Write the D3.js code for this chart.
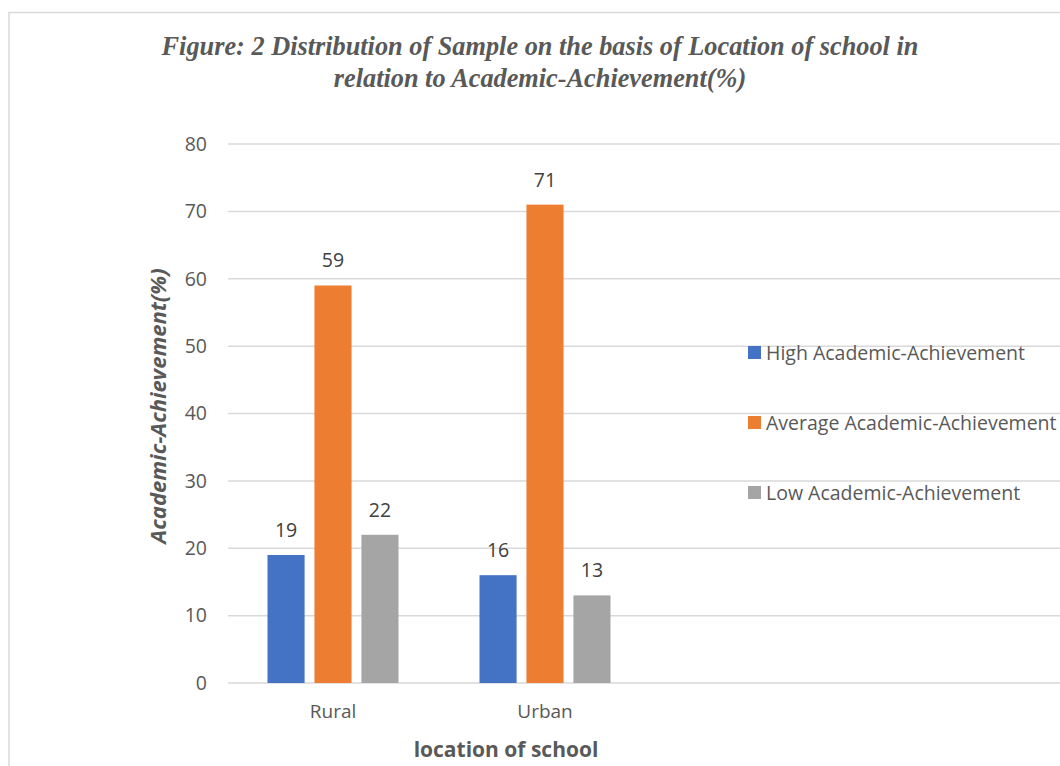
<!DOCTYPE html>
<html><head><meta charset="utf-8">
<script src="https://cdn.jsdelivr.net/npm/d3@7"></script>
<style>body{margin:0;background:#fff}svg{display:block}</style>
</head><body>
<script>
const categories = ["Rural", "Urban"];
const seriesNames = ["High Academic-Achievement", "Average Academic-Achievement", "Low Academic-Achievement"];
const highValues = [19, 16];
const averageValues = [59, 71];
const lowValues = [22, 13];
const yTicks = [0, 10, 20, 30, 40, 50, 60, 70, 80];
const colors = ["#4472C4", "#ED7D31", "#A5A5A5"];
const titleLines = ["Figure: 2 Distribution of Sample on the basis of Location of school in", "relation to Academic-Achievement(%)"];

const W = 1060, H = 766;
const svg = d3.select("body").append("svg").attr("width", W).attr("height", H);
svg.append("rect").attr("x", 9).attr("y", 12.5).attr("width", W + 10).attr("height", H + 10)
  .attr("fill", "#fff").attr("stroke", "#d9d9d9").attr("stroke-width", 1.5);

const y = d3.scaleLinear().domain([0, 80]).range([683, 144]);
const x0 = d3.scaleBand().domain(categories).range([227, 651]);
const x1 = d3.scaleBand().domain(seriesNames).range([40.5, 171.5]).paddingInner(0.21);

const sans = "'Open Sans', 'Noto Sans', sans-serif";

// gridlines
svg.append("g").selectAll("line").data(yTicks).join("line")
  .attr("x1", 228).attr("x2", W).attr("y1", d => y(d)).attr("y2", d => y(d))
  .attr("stroke", "#d9d9d9").attr("stroke-width", 1.5);

// y axis labels
const yAxis = svg.append("g").attr("transform", "translate(207,0)")
  .call(d3.axisLeft(y).tickValues(yTicks).tickSize(0).tickPadding(0));
yAxis.select(".domain").remove();
yAxis.selectAll("text").attr("font-family", sans).attr("font-size", 19.5).attr("fill", "#595959");

// x axis labels
const xAxis = svg.append("g").attr("transform", "translate(0,704)")
  .call(d3.axisBottom(x0).tickSize(0).tickPadding(0));
xAxis.select(".domain").remove();
xAxis.selectAll("text").attr("font-family", sans).attr("font-size", 19).attr("fill", "#595959");

const series = [highValues, averageValues, lowValues];
const data = [];
categories.forEach((c, i) => seriesNames.forEach((s, j) => data.push({c, s, j, v: series[j][i]})));

const bars = svg.append("g");
bars.selectAll("rect").data(data).join("rect")
  .attr("x", d => x0(d.c) + x1(d.s))
  .attr("width", x1.bandwidth())
  .attr("y", d => y(d.v))
  .attr("height", d => y(0) - y(d.v))
  .attr("fill", d => colors[d.j]);
bars.selectAll("text").data(data).join("text")
  .attr("x", d => x0(d.c) + x1(d.s) + x1.bandwidth() / 2)
  .attr("y", d => y(d.v) - 18)
  .attr("text-anchor", "middle")
  .attr("font-family", sans).attr("font-size", 19.5).attr("fill", "#404040")
  .text(d => d.v);

// title
svg.append("g").selectAll("text").data(titleLines).join("text")
  .attr("x", 540).attr("y", (d, i) => 55 + i * 32)
  .attr("text-anchor", "middle")
  .attr("font-family", "'Liberation Serif', 'Times New Roman', serif")
  .attr("font-style", "italic").attr("font-weight", "bold")
  .attr("font-size", 26.3).attr("fill", "#595959")
  .text(d => d);

// y axis title
svg.append("text")
  .attr("transform", "translate(166,406) rotate(-90)")
  .attr("text-anchor", "middle")
  .attr("font-family", sans).attr("font-style", "italic").attr("font-weight", "bold")
  .attr("font-size", 22).attr("fill", "#595959")
  .text("Academic-Achievement(%)");

// x axis title
svg.append("text")
  .attr("x", 506).attr("y", 757)
  .attr("text-anchor", "middle")
  .attr("font-family", sans).attr("font-weight", "bold")
  .attr("font-size", 21).attr("fill", "#595959")
  .text("location of school");

// legend
const legend = svg.append("g").selectAll("g").data(seriesNames).join("g")
  .attr("transform", (d, i) => `translate(748,${352.5 + i * 70})`);
legend.append("rect").attr("x", 0).attr("y", -6.5).attr("width", 13).attr("height", 13)
  .attr("fill", (d, i) => colors[i]);
legend.append("text").attr("x", 18).attr("y", 7)
  .attr("font-family", sans).attr("font-size", 19.5).attr("fill", "#595959")
  .text(d => d);
</script>
</body></html>
